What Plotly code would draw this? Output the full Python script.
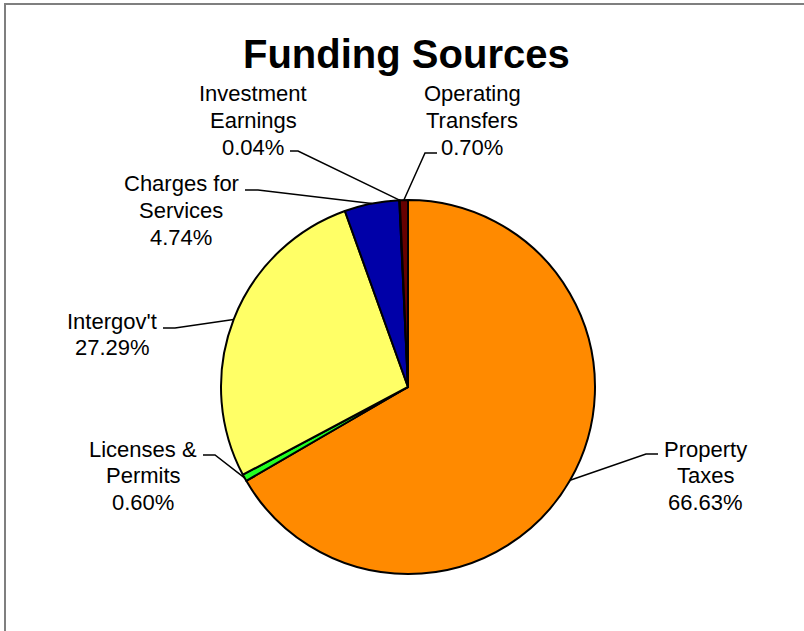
import math
import plotly.graph_objects as go

# Funding sources and their shares of the total (percent)
labels = ["Property Taxes", "Licenses & Permits", "Intergov't",
          "Charges for Services", "Investment Earnings", "Operating Transfers"]
shares = [66.63, 0.60, 27.29, 4.74, 0.04, 0.70]
colors = ["#FF8A00", "#22FF22", "#FFFF66", "#0000A8", "#7A3A7A", "#660000"]

# Text lines shown above each percentage
label_lines = [["Property", "Taxes"], ["Licenses &", "Permits"], ["Intergov't"],
               ["Charges for", "Services"], ["Investment", "Earnings"],
               ["Operating", "Transfers"]]

W, H = 804, 631
CX, CY, R = 408, 387, 187          # pie centre and radius in pixels

# Label placement (pixels): text centre x, first line y, leader elbow, tick end
label_pos = [
    dict(tx=705, ty=449, elbow=(646, 454), tick=(658, 454)),
    dict(tx=143, ty=449, elbow=(215, 455), tick=(203, 455)),
    dict(tx=112, ty=321, elbow=(175, 328), tick=(163, 328)),
    dict(tx=181, ty=184, elbow=(258, 190), tick=(245, 190)),
    dict(tx=253, ty=94, elbow=(298, 151), tick=(290, 151)),
    dict(tx=472, ty=94, elbow=(425, 153), tick=(437, 153)),
]
LINE_STEP = 26.5


def px(x):
    return x / W


def py(y):
    return 1 - y / H


fig = go.Figure(go.Pie(
    labels=labels, values=shares, sort=False, direction="clockwise",
    rotation=0, textinfo="none", hoverinfo="label+percent",
    marker=dict(colors=colors, line=dict(color="black", width=2)),
    domain=dict(x=[px(CX - R), px(CX + R)], y=[py(CY + R), py(CY - R)]),
    showlegend=False,
))

annotations = []
shapes = []
total = sum(shares)
cum = 0.0
for name_lines, v, pos in zip(label_lines, shares, label_pos):
    mid = (cum + v / 2) / total * 2 * math.pi
    cum += v
    # point on the rim at the middle of the slice
    sx = CX + R * math.sin(mid)
    sy = CY - R * math.cos(mid)
    ex, ey = pos["elbow"]
    kx, ky = pos["tick"]
    shapes.append(dict(
        type="path", xref="paper", yref="paper",
        path=f"M {px(sx)} {py(sy)} L {px(ex)} {py(ey)} L {px(kx)} {py(ky)}",
        line=dict(color="black", width=1.5)))
    lines = name_lines + [f"{v:.2f}%"]
    for i, t in enumerate(lines):
        annotations.append(dict(
            text=t, x=px(pos["tx"]), y=py(pos["ty"] + i * LINE_STEP),
            xref="paper", yref="paper", xanchor="center", yanchor="middle",
            showarrow=False,
            font=dict(family="Liberation Sans, Arial, sans-serif", size=22,
                      color="black")))

annotations.append(dict(
    text="<b>Funding Sources</b>", x=px(406), y=py(54), xref="paper",
    yref="paper", xanchor="center", yanchor="middle", showarrow=False,
    font=dict(family="Liberation Sans, Arial, sans-serif", size=40,
              color="black")))

# chart-area frame
shapes.append(dict(type="rect", xref="paper", yref="paper",
                   x0=px(5), y0=-0.05, x1=1.05, y1=py(4),
                   line=dict(color="#7F7F7F", width=2)))

fig.update_layout(
    width=W, height=H, autosize=False,
    margin=dict(l=0, r=0, t=0, b=0),
    paper_bgcolor="white", plot_bgcolor="white",
    annotations=annotations, shapes=shapes,
)

fig.write_html("out.html")
